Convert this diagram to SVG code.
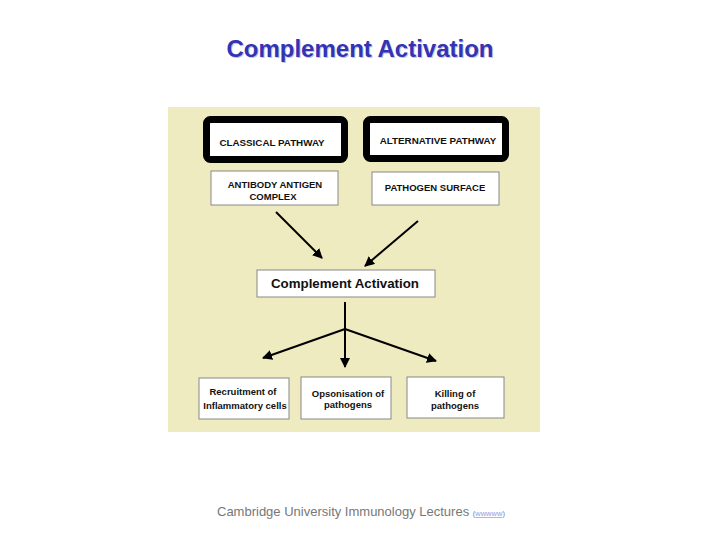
<svg xmlns="http://www.w3.org/2000/svg" width="720" height="540" viewBox="0 0 720 540">
<style>
text{font-family:"Liberation Sans",Arial,sans-serif;}
.lbl{font-size:9.8px;font-weight:bold;fill:#111;text-anchor:middle;}
.sub{font-size:9.5px;font-weight:bold;fill:#111;text-anchor:middle;}
.box{fill:#fff;stroke:#888;stroke-width:1;}
.path{fill:#fff;stroke:#000;stroke-width:7;}
.conn{stroke:#000;stroke-width:2;fill:none;marker-end:url(#ah);}
</style>
<defs>
<marker id="ah" viewBox="0 0 10 10" refX="9" refY="5" markerWidth="5" markerHeight="5" orient="auto" markerUnits="strokeWidth">
<path d="M0,0 L10,5 L0,10 z" fill="#000"/>
</marker>
</defs>
<rect width="720" height="540" fill="#fff"/>
<g id="title">
<text x="361" y="58" font-size="23" font-weight="bold" fill="#c4c4dd" text-anchor="middle" textLength="267" lengthAdjust="spacingAndGlyphs">Complement Activation</text>
<text x="360" y="57" font-size="23" font-weight="bold" fill="#3333b3" text-anchor="middle" textLength="267" lengthAdjust="spacingAndGlyphs">Complement Activation</text>
</g>
<rect id="panel" x="168" y="107" width="372" height="325" fill="#EEEBC0"/>
<g id="classical">
<rect class="path" x="206.5" y="119.5" width="138" height="40" rx="4"/>
<text class="lbl" x="272" y="146">CLASSICAL PATHWAY</text>
</g>
<g id="alternative">
<rect class="path" x="366.5" y="119.5" width="139" height="39" rx="4"/>
<text class="lbl" x="438" y="144">ALTERNATIVE PATHWAY</text>
</g>
<g id="antibody">
<rect class="box" x="211" y="171" width="127" height="34"/>
<text class="sub" x="275" y="188">ANTIBODY ANTIGEN</text>
<text class="sub" x="273" y="200">COMPLEX</text>
</g>
<g id="pathogen">
<rect class="box" x="372" y="172" width="127" height="33"/>
<text class="sub" x="435" y="191">PATHOGEN SURFACE</text>
</g>
<g id="activation">
<rect class="box" x="257" y="270" width="178" height="27"/>
<text x="345" y="288" font-size="13.3" font-weight="bold" fill="#111" text-anchor="middle">Complement Activation</text>
</g>
<g id="recruitment">
<rect class="box" x="199" y="378" width="90" height="41"/>
<text class="sub" x="243" y="395">Recruitment of</text>
<text class="sub" x="245" y="409">Inflammatory cells</text>
</g>
<g id="opsonisation">
<rect class="box" x="301" y="377" width="90" height="42"/>
<text class="sub" x="348" y="397">Opsonisation of</text>
<text class="sub" x="348" y="408">pathogens</text>
</g>
<g id="killing">
<rect class="box" x="407" y="377" width="97" height="41"/>
<text class="sub" x="455" y="397">Killing of</text>
<text class="sub" x="455" y="409">pathogens</text>
</g>
<g id="connectors">
<line class="conn" x1="276" y1="212" x2="322" y2="258"/>
<line class="conn" x1="418" y1="221" x2="365" y2="266"/>
<line x1="345" y1="302" x2="345" y2="329" stroke="#000" stroke-width="2"/>
<line class="conn" x1="345" y1="329" x2="263" y2="358"/>
<line class="conn" x1="345" y1="329" x2="345" y2="367"/>
<line class="conn" x1="345" y1="329" x2="436" y2="361"/>
</g>
<g id="footer">
<text x="217" y="516" font-size="13" fill="#777">Cambridge University Immunology Lectures <tspan font-size="7.5" fill="#777">(</tspan><tspan font-size="7.5" fill="#9999dd" text-decoration="underline">wwwww</tspan><tspan font-size="7.5" fill="#777">)</tspan></text>
</g>
</svg>
